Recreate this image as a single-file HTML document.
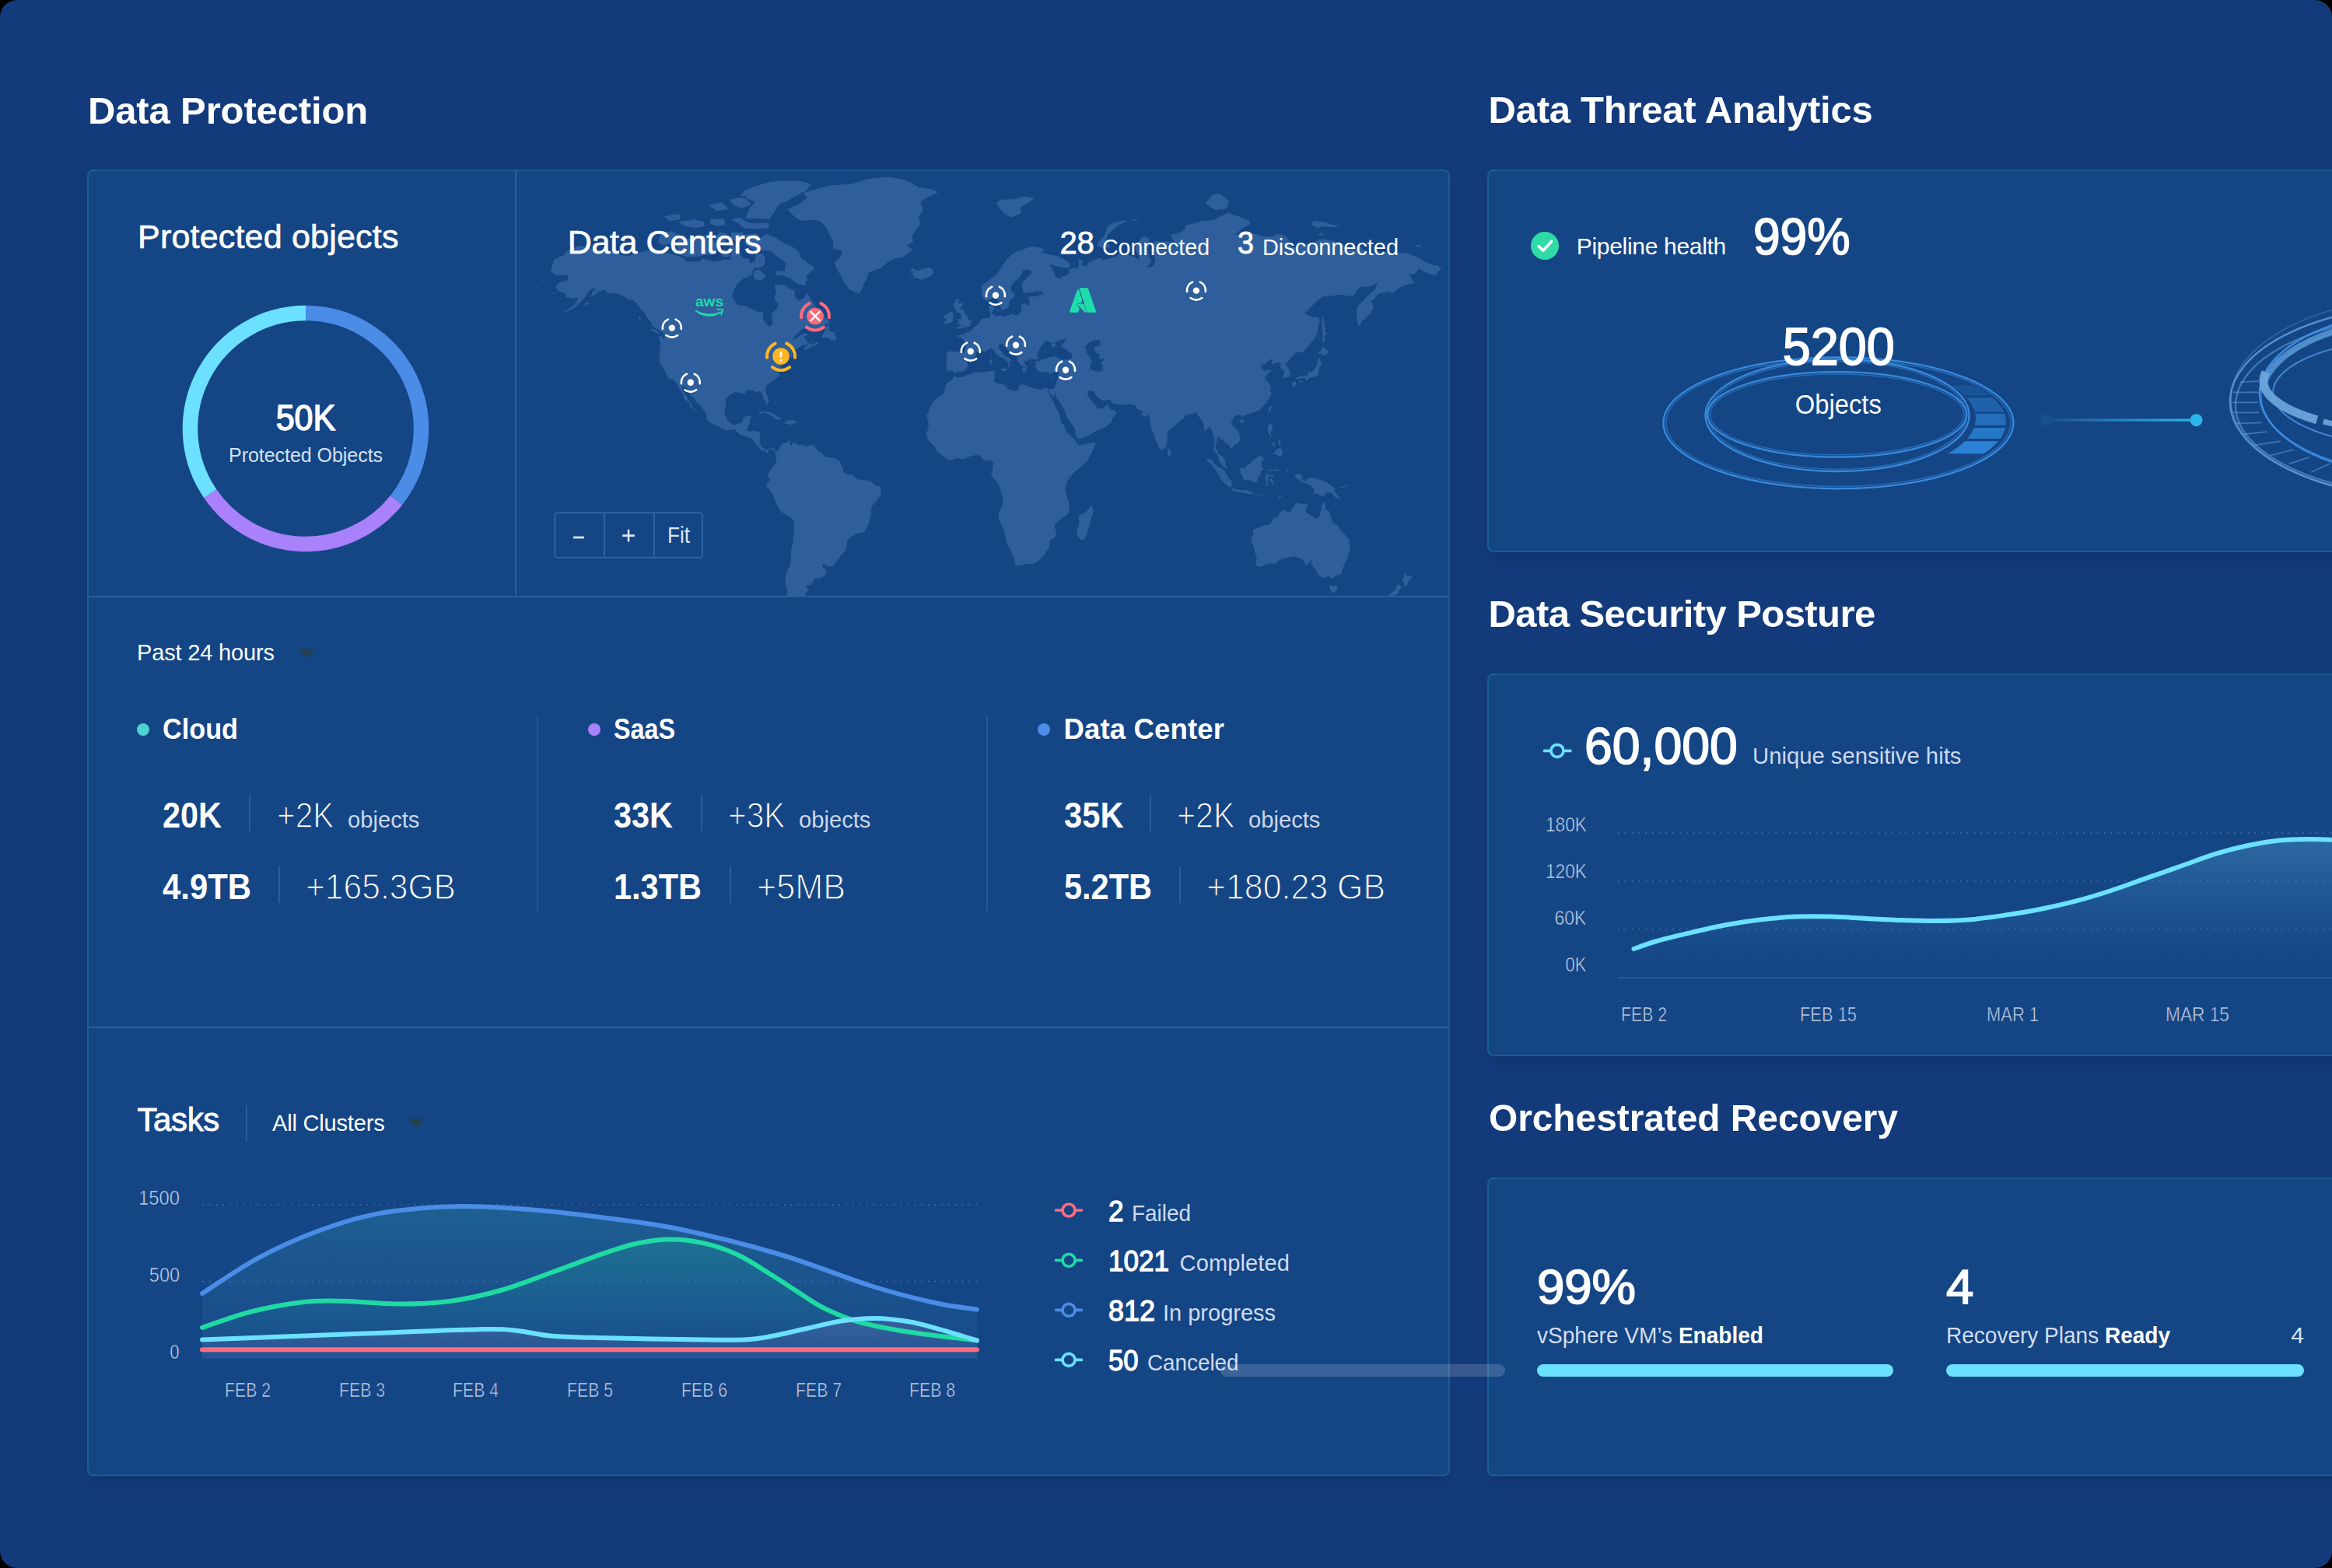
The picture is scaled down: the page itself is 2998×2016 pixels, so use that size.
<!DOCTYPE html>
<html lang="en">
<head>
<meta charset="utf-8">
<title>Data Protection Dashboard</title>
<style>
html,body{margin:0;padding:0;background:#000;}
body{width:2998px;height:2016px;overflow:hidden;font-family:"Liberation Sans",sans-serif;}
#app{position:absolute;left:0;top:0;width:2998px;height:2016px;background:#133a7a;border-radius:22px;overflow:hidden;}
.card{position:absolute;background:#144585;border:2px solid #185f93;border-radius:8px;box-sizing:border-box;box-shadow:0 16px 14px -10px rgba(8,24,64,.24);}
.t{position:absolute;white-space:nowrap;line-height:1;color:#fff;font-weight:400;}
.t b{font-weight:700;color:#fff;}
.vl{position:absolute;width:2px;background:#2b5d9c;}
.hl{position:absolute;height:2px;background:#2b5d9c;}
.dot{position:absolute;width:16px;height:16px;border-radius:50%;}
.bar{position:absolute;height:16px;border-radius:8px;background:#6be0ff;}
svg{position:absolute;left:0;top:0;}
</style>
</head>
<body>
<div id="app">
  <!-- cards -->
  <div class="card" style="left:112px;top:218px;width:1752px;height:1680px;"></div>
  <div class="card" style="left:1912px;top:218px;width:1120px;height:492px;"></div>
  <div class="card" style="left:1912px;top:866px;width:1120px;height:492px;"></div>
  <div class="card" style="left:1912px;top:1514px;width:1120px;height:384px;"></div>

  <svg width="2998" height="2016" viewBox="0 0 2998 2016">
    <defs>
      <clipPath id="mapclip"><rect x="664" y="220" width="1198" height="546" rx="6"/></clipPath>
      <linearGradient id="gblue" x1="0" y1="0" x2="0" y2="1">
        <stop offset="0" stop-color="#2b7fa0" stop-opacity=".45"/>
        <stop offset="1" stop-color="#2b6ea8" stop-opacity=".12"/>
      </linearGradient>
      <linearGradient id="ggreen" x1="0" y1="0" x2="0" y2="1">
        <stop offset="0" stop-color="#1f8f9a" stop-opacity=".45"/>
        <stop offset="1" stop-color="#1f7f9a" stop-opacity=".05"/>
      </linearGradient>
      <linearGradient id="gcyan" x1="0" y1="0" x2="0" y2="1">
        <stop offset="0" stop-color="#5a6fb0" stop-opacity=".45"/>
        <stop offset="1" stop-color="#5a6fb0" stop-opacity=".2"/>
      </linearGradient>
      <linearGradient id="gsec" x1="0" y1="0" x2="0" y2="1">
        <stop offset="0" stop-color="#3f86bd" stop-opacity=".55"/>
        <stop offset="1" stop-color="#2a66a6" stop-opacity="0"/>
      </linearGradient>
      <linearGradient id="gconn" gradientUnits="userSpaceOnUse" x1="2631" y1="0" x2="2823" y2="0">
        <stop offset="0" stop-color="#1a5596"/>
        <stop offset="1" stop-color="#2bb7ea"/>
      </linearGradient>
      <g id="dc">
        <circle r="4.2" fill="#fff"/>
        <g fill="none" stroke="#fff" stroke-width="2.7" stroke-linecap="round"><path d="M11.93 1.25A12 12 0 0 0 4.88 -10.96"/><path d="M-4.88 -10.96A12 12 0 0 0 -11.93 1.25"/><path d="M-7.39 9.46A12 12 0 0 0 7.39 9.46"/></g>
      </g>
    </defs>

    <!-- map -->
    <g clip-path="url(#mapclip)">
      <path d="M707.4 348.3L712.2 352.7L717.0 354.3L723.4 354.3L729.8 354.3L729.8 359.7L723.4 361.8L717.0 363.4L713.8 369.6L718.6 375.7L726.6 377.7L726.6 382.6L731.4 383.6L737.8 384.1L742.6 383.1L741.0 386.6L736.8 392.4L729.8 397.1L723.4 400.4L717.6 404.1L725.0 402.3L731.4 399.9L737.8 397.1L742.6 393.3L747.4 388.5L751.6 383.6L755.4 377.7L759.2 372.6L765.6 371.1L760.8 375.2L759.2 381.7L766.6 378.7L770.4 375.2L776.2 373.2L782.6 377.2L789.0 377.7L796.0 379.2L801.8 381.7L807.2 385.6L813.0 386.1L818.4 390.9L823.2 398.0L828.0 402.7L830.6 407.3L836.0 414.1L838.6 419.9L845.6 423.9L850.4 427.4L852.7 429.5L853.3 435.5L851.4 432.1L846.0 431.2L848.2 440.6L847.9 449.7L847.6 457.8L846.9 464.2L849.2 469.7L853.0 474.8L855.2 479.4L859.1 486.6L862.6 488.1L866.1 489.6L870.3 494.5L873.2 500.0L875.4 504.8L879.2 509.2L877.3 512.1L881.8 515.3L886.0 518.2L886.6 523.2L890.4 526.4L893.3 529.2L894.0 526.7L890.8 523.2L888.5 518.2L885.6 513.9L883.4 509.2L880.2 505.2L877.6 500.8L878.0 497.5L882.8 499.3L884.7 504.5L887.2 508.5L891.1 511.4L893.6 514.6L894.9 518.2L898.8 521.1L902.6 525.3L905.8 529.6L908.0 534.1L907.1 538.0L909.6 541.8L913.8 544.9L919.2 546.7L925.0 549.8L929.8 552.2L934.6 553.9L939.4 553.5L943.2 552.5L947.4 555.6L951.2 559.4L956.0 560.7L960.8 562.4L964.7 563.4L967.2 566.2L970.4 570.6L973.0 573.6L977.2 578.0L979.4 579.4L983.6 580.4L986.4 583.1L989.0 582.4L987.7 579.7L990.6 577.3L993.8 579.0L994.8 582.1L997.6 580.7L997.3 578.0L993.8 575.6L990.3 575.3L986.4 577.3L983.2 577.0L980.0 574.6L977.5 569.6L977.2 563.4L978.4 556.6L974.6 553.9L969.8 553.5L965.0 553.9L960.8 553.5L962.4 548.0L964.4 544.6L965.0 540.1L966.9 534.5L961.8 534.1L956.4 535.5L955.1 538.3L953.2 543.2L949.0 544.2L943.6 545.6L941.0 544.2L936.8 541.8L934.0 536.6L932.0 531.7L932.0 527.1L934.0 518.9L933.3 513.9L936.2 509.9L941.0 506.6L944.8 504.8L951.2 505.2L955.4 506.6L959.6 507.0L958.6 503.0L963.4 502.3L968.2 502.3L971.7 504.8L976.2 503.4L980.0 507.4L980.4 511.7L983.2 517.1L985.5 521.4L988.0 520.3L988.7 515.3L987.1 509.6L984.5 501.5L986.1 496.3L991.2 492.2L995.4 489.2L998.6 486.6L1003.1 484.0L1001.2 478.2L1002.4 476.3L1005.0 470.1L1007.9 467.3L1008.8 463.0L1016.2 460.2L1021.0 458.6L1018.4 456.6L1019.4 452.1L1024.2 448.9L1030.6 445.2L1037.6 443.5L1033.2 447.6L1034.4 451.7L1041.8 447.2L1049.2 444.3L1053.0 441.4L1049.8 438.1L1045.0 442.7L1038.6 440.6L1037.6 436.4L1034.4 433.0L1039.2 430.8L1038.6 427.8L1032.2 428.2L1024.2 433.8L1019.4 436.4L1025.8 429.1L1032.2 423.4L1041.8 423.0L1053.0 423.0L1061.0 418.2L1066.4 416.4L1066.4 411.9L1061.6 408.2L1059.4 402.7L1051.4 399.5L1047.2 390.9L1041.8 382.6L1038.6 375.7L1035.4 378.7L1032.2 383.6L1026.8 386.1L1022.6 381.2L1022.0 372.6L1016.2 371.1L1008.8 366.0L997.0 364.9L995.4 368.6L997.0 376.7L994.4 383.6L999.9 390.9L998.0 397.1L990.6 403.2L992.8 408.7L992.2 417.7L988.0 419.0L985.8 415.5L982.0 411.0L981.6 401.3L973.0 399.9L963.4 395.2L957.0 392.4L949.0 391.9L943.6 384.1L942.0 380.2L944.8 371.6L949.0 364.9L955.4 359.1L963.4 355.9L968.2 352.7L969.8 345.0L976.2 345.0L982.6 341.7L984.8 332.0L981.0 324.9L971.4 326.1L969.8 336.0L965.0 337.7L963.4 332.0L955.4 331.4L950.6 324.3L947.4 315.2L941.0 311.5L936.2 318.3L939.4 327.3L937.8 333.7L931.4 333.1L918.6 336.0L902.6 332.0L899.4 336.0L883.4 336.0L877.0 330.2L857.8 324.3L843.4 326.1L835.4 320.7L825.8 323.1L813.0 326.7L806.6 329.1L793.8 325.5L774.6 321.9L758.6 318.3L744.2 315.2L729.8 321.3L723.4 327.9L712.2 333.1L707.4 348.3ZM1011.4 269.2L1016.2 274.2L1021.0 279.2L1030.6 284.7L1041.8 283.4L1053.0 284.7L1061.0 291.5L1065.8 301.4L1070.6 310.9L1070.6 320.1L1081.8 323.1L1080.2 330.2L1072.8 336.0L1073.8 343.4L1078.6 351.6L1081.8 358.1L1086.6 366.0L1091.4 372.6L1099.4 376.2L1104.8 378.2L1108.0 373.7L1110.6 366.5L1114.4 359.7L1117.0 351.1L1125.0 347.8L1133.0 345.0L1141.0 338.3L1149.0 333.7L1160.2 331.4L1168.2 326.1L1174.6 320.7L1166.6 315.9L1174.6 310.9L1173.0 304.6L1177.8 296.2L1184.2 288.1L1181.0 279.2L1187.4 270.7L1184.2 259.6L1193.8 253.5L1206.6 248.1L1200.2 243.3L1181.0 240.1L1165.0 231.0L1142.6 226.8L1117.0 229.3L1094.6 236.0L1069.0 237.6L1046.6 243.3L1030.6 248.1L1037.0 254.3L1027.4 261.8L1011.4 269.2ZM997.3 578.0L995.7 583.1L997.0 586.1L997.6 590.5L997.0 595.5L993.5 598.5L992.8 601.8L989.6 603.9L988.7 606.5L986.4 610.5L986.1 614.6L989.6 615.2L987.7 618.6L984.8 622.3L985.5 627.3L989.3 630.0L992.2 635.0L994.8 641.5L998.0 647.9L1000.8 654.0L1004.4 658.8L1009.8 662.2L1016.5 666.0L1020.0 669.5L1020.4 678.5L1019.4 687.3L1019.1 696.2L1016.8 705.2L1016.2 712.5L1015.9 721.8L1014.6 727.4L1012.0 733.1L1009.8 738.9L1008.8 747.8L1009.2 754.6L1012.0 758.6L1010.4 765.9L1007.2 770.9L1003.4 775.5L1006.6 777.2L1003.4 782.7L1003.4 790.1L1005.6 796.7L1008.8 802.5L1013.0 806.2L1017.8 807.1L1018.4 803.0L1022.6 800.7L1025.5 799.8L1024.2 793.6L1027.4 790.1L1030.6 784.9L1034.4 780.6L1032.2 777.2L1028.7 773.8L1031.2 770.5L1035.7 768.0L1037.0 761.9L1041.2 759.0L1038.6 757.8L1037.0 752.6L1041.8 753.0L1045.6 749.8L1047.2 744.7L1054.6 743.9L1060.7 740.8L1063.2 735.4L1062.0 731.6L1058.4 728.9L1057.8 725.5L1060.0 726.3L1064.2 728.5L1069.6 728.9L1073.8 725.5L1077.6 719.9L1081.2 715.5L1085.0 710.7L1088.8 705.2L1089.2 699.8L1090.1 694.8L1094.6 690.8L1099.4 688.4L1104.2 685.9L1110.0 685.2L1112.8 683.1L1114.4 679.2L1117.0 674.3L1118.6 668.8L1120.2 662.9L1120.2 657.1L1121.5 651.0L1125.0 646.9L1128.2 642.8L1132.4 637.4L1133.6 631.3L1132.0 625.0L1126.0 623.3L1120.8 619.3L1115.4 616.9L1109.0 616.6L1102.6 615.6L1097.8 611.2L1092.0 609.5L1088.8 608.9L1084.4 606.2L1085.0 602.5L1082.4 598.8L1080.2 592.8L1076.0 589.8L1070.6 587.8L1064.2 587.4L1060.0 585.8L1056.2 581.0L1051.4 578.3L1048.2 574.3L1046.6 571.3L1041.8 571.6L1037.0 573.3L1032.2 571.6L1026.4 571.3L1022.6 568.9L1021.0 566.5L1018.4 569.2L1016.8 572.6L1015.2 570.2L1017.2 567.2L1015.2 565.5L1011.4 568.2L1007.2 569.6L1003.4 571.6L1001.8 576.0L999.2 580.4L997.3 578.0ZM1025.5 802.1L1019.7 803.0L1019.4 808.0L1014.6 809.8L1017.8 812.6L1024.2 814.9L1030.0 816.8L1036.4 811.2L1032.2 808.4L1027.4 804.3L1025.5 802.1ZM1226.1 482.1L1225.2 484.3L1223.2 488.5L1220.0 490.4L1216.2 493.4L1214.0 497.8L1214.0 501.5L1213.3 504.5L1210.4 507.7L1206.6 510.3L1202.8 512.4L1199.2 516.4L1197.6 520.0L1194.4 525.3L1193.2 529.6L1190.6 534.1L1191.2 536.6L1192.8 541.1L1193.2 546.3L1192.5 551.5L1191.2 554.9L1189.3 557.6L1191.6 561.7L1191.6 565.8L1195.4 568.9L1198.0 571.6L1201.5 575.0L1202.8 578.3L1204.7 581.7L1208.2 584.1L1211.4 586.4L1216.2 590.1L1220.7 592.5L1224.2 591.5L1229.0 589.8L1234.8 590.1L1238.6 591.1L1243.4 589.1L1248.8 586.8L1254.0 585.8L1258.8 586.1L1261.6 589.1L1264.2 592.8L1268.0 592.5L1272.2 591.8L1275.4 593.8L1276.4 596.2L1276.0 600.5L1275.1 606.2L1273.2 609.5L1274.4 612.2L1277.6 616.6L1281.2 620.6L1284.0 623.9L1284.4 627.3L1286.0 631.3L1287.2 637.4L1289.2 642.5L1288.8 647.6L1286.0 652.7L1283.4 659.5L1282.8 665.7L1285.0 671.6L1288.5 678.5L1291.4 685.5L1292.7 694.4L1294.6 700.9L1298.1 706.3L1300.7 712.5L1303.6 718.1L1303.6 722.9L1305.2 727.0L1309.0 728.5L1314.8 727.0L1320.2 725.9L1327.2 725.5L1332.4 723.7L1337.2 719.9L1342.0 715.1L1345.2 709.6L1349.0 705.2L1350.0 699.8L1350.3 694.8L1355.4 691.9L1358.6 688.4L1358.3 682.7L1356.0 677.8L1357.0 674.3L1362.8 668.8L1367.6 665.3L1373.0 661.9L1375.2 656.8L1374.9 649.3L1374.3 642.5L1371.4 638.1L1371.1 632.3L1369.5 627.3L1371.7 622.3L1373.6 617.2L1376.2 613.9L1379.4 609.9L1384.2 605.5L1390.0 600.5L1395.4 596.2L1399.6 590.5L1403.4 583.7L1406.6 577.0L1408.5 571.9L1408.8 567.2L1404.4 568.9L1398.6 569.6L1392.2 570.9L1387.4 571.9L1383.2 568.5L1383.6 565.8L1381.3 563.8L1377.2 560.0L1373.0 556.6L1370.4 552.5L1368.2 546.3L1364.4 542.8L1364.0 537.6L1362.8 532.4L1358.9 526.0L1355.7 518.9L1353.2 512.8L1350.0 508.1L1349.0 503.7L1348.4 498.9L1342.6 498.2L1337.8 500.4L1331.4 498.9L1325.0 497.5L1319.2 495.2L1314.8 493.0L1309.0 495.6L1309.0 500.0L1305.8 502.6L1301.0 500.8L1295.6 499.3L1294.0 495.2L1288.2 493.0L1283.4 493.0L1279.6 490.7L1277.6 488.9L1280.2 487.0L1278.9 482.1L1280.2 477.5L1276.4 476.3L1269.0 477.1L1262.6 478.2L1254.6 477.8L1246.6 480.5L1241.8 482.1L1237.0 484.3L1230.6 484.3L1226.1 482.1ZM1402.8 647.6L1401.2 651.0L1398.6 654.4L1396.0 657.8L1392.2 660.2L1387.4 661.9L1385.8 666.4L1387.1 671.6L1385.8 676.8L1383.6 682.0L1384.2 687.3L1386.4 692.6L1390.6 694.8L1395.4 693.0L1397.0 689.1L1399.2 682.0L1401.2 675.0L1403.1 668.8L1404.0 664.0L1406.3 659.1L1405.0 652.7L1402.8 647.6ZM1227.1 481.3L1230.6 478.6L1233.8 478.6L1238.6 478.2L1242.4 475.1L1243.1 473.6L1245.6 470.5L1244.0 468.1L1245.0 466.2L1247.9 462.2L1252.0 460.2L1255.2 457.8L1254.9 453.8L1257.8 451.7L1261.0 452.1L1265.8 453.4L1270.0 450.5L1273.8 448.0L1277.6 450.1L1278.6 453.8L1280.8 456.2L1284.4 459.0L1289.2 461.0L1292.4 463.4L1295.2 465.8L1296.2 470.5L1295.2 474.0L1297.8 472.4L1300.0 469.7L1298.1 466.9L1299.4 463.8L1303.6 466.6L1303.9 464.6L1299.4 461.8L1296.8 458.6L1293.6 458.2L1289.8 454.6L1287.2 450.5L1284.4 447.6L1284.7 443.9L1288.8 442.7L1288.8 446.0L1291.7 444.7L1293.0 448.5L1296.2 451.7L1301.0 454.2L1305.2 456.6L1307.4 459.4L1307.4 464.6L1310.0 467.7L1312.2 470.5L1318.0 472.8L1312.8 472.4L1313.2 474.4L1314.4 477.8L1316.4 479.0L1318.6 479.4L1319.2 476.3L1320.2 474.4L1321.8 473.6L1319.6 469.7L1317.6 467.7L1318.0 463.8L1319.6 465.0L1321.8 464.2L1324.4 462.2L1328.2 462.6L1330.8 463.4L1334.6 461.8L1338.1 461.0L1334.9 459.0L1333.6 456.2L1334.6 453.8L1336.5 450.5L1338.4 446.4L1340.4 443.5L1343.2 439.7L1345.8 438.5L1348.4 440.6L1352.5 441.4L1349.3 443.9L1351.9 445.2L1352.8 448.0L1355.4 446.8L1358.6 445.6L1361.8 444.3L1357.0 443.1L1357.0 440.6L1361.8 438.5L1366.6 436.8L1370.4 436.8L1367.2 440.2L1363.4 444.7L1365.0 446.8L1369.8 449.7L1374.6 452.9L1378.1 455.8L1377.8 459.8L1372.4 461.8L1366.6 461.8L1361.8 460.6L1357.6 457.8L1353.8 457.8L1349.0 458.6L1344.2 461.4L1338.8 461.0L1338.4 463.0L1334.0 464.2L1329.8 464.6L1328.8 466.9L1331.1 468.5L1329.8 471.3L1331.4 473.6L1332.7 476.7L1334.6 478.2L1337.8 479.0L1342.0 480.1L1344.2 478.2L1349.0 480.9L1353.2 480.5L1357.0 478.6L1360.5 479.0L1359.9 482.1L1359.6 485.9L1358.0 490.4L1356.7 494.1L1354.8 498.6L1352.2 499.7L1348.7 499.3L1349.3 504.1L1350.6 507.4L1352.8 510.3L1354.8 511.0L1356.7 505.9L1356.4 509.2L1358.6 512.8L1362.8 518.9L1366.0 524.6L1369.2 529.6L1370.4 534.8L1373.0 539.4L1376.8 544.6L1380.7 550.4L1382.0 554.9L1382.6 560.7L1384.5 564.5L1390.0 563.8L1397.0 561.7L1401.8 559.4L1406.6 556.6L1412.0 553.5L1416.2 551.5L1421.0 549.8L1425.8 546.3L1429.6 542.8L1430.6 538.3L1433.8 534.8L1436.4 530.6L1432.5 526.7L1427.4 525.3L1425.5 521.8L1424.8 517.5L1421.6 520.7L1417.8 524.6L1413.0 525.0L1409.8 523.6L1410.1 519.6L1408.5 517.8L1407.6 521.1L1405.6 517.1L1403.4 513.9L1400.5 510.3L1398.6 506.3L1398.6 503.7L1401.8 502.3L1406.0 504.5L1408.8 509.2L1412.4 512.4L1415.6 515.0L1420.4 516.0L1424.8 514.3L1427.4 515.3L1430.0 519.3L1435.4 520.3L1442.1 521.1L1448.2 520.7L1454.6 520.7L1459.4 522.1L1461.0 525.3L1465.2 527.8L1469.6 529.6L1465.8 531.7L1469.0 535.5L1472.2 536.6L1477.0 534.1L1477.6 537.6L1478.0 543.5L1479.2 549.8L1481.2 554.9L1483.4 560.7L1485.6 566.8L1488.2 571.9L1490.1 577.0L1493.0 580.0L1495.2 578.3L1497.8 576.3L1500.4 572.6L1500.7 567.5L1501.6 562.1L1501.0 556.6L1503.6 553.5L1508.4 550.4L1513.8 544.6L1518.6 540.4L1522.8 538.3L1523.4 534.8L1526.0 533.8L1529.8 533.1L1534.0 532.4L1537.2 530.3L1539.4 533.1L1542.0 537.6L1545.2 541.8L1547.4 547.0L1546.8 553.2L1550.0 553.9L1552.2 551.5L1554.8 549.8L1557.6 553.2L1558.6 558.3L1560.2 563.4L1560.8 568.5L1560.2 574.3L1559.6 579.7L1561.8 581.4L1564.4 585.1L1566.0 588.4L1567.2 593.1L1569.2 597.2L1571.4 599.5L1575.9 602.5L1578.4 602.5L1576.2 597.8L1575.9 593.1L1574.0 588.8L1570.4 585.1L1566.6 583.7L1566.0 579.7L1563.4 576.3L1562.8 572.6L1565.0 568.5L1565.0 563.4L1566.6 561.7L1568.2 564.5L1573.0 566.2L1574.6 570.2L1578.8 571.9L1580.4 574.3L1581.0 578.3L1585.2 576.0L1586.4 573.6L1589.0 571.9L1593.2 569.2L1594.8 565.1L1594.4 560.0L1592.2 553.9L1589.0 550.8L1585.5 547.0L1583.2 542.8L1585.8 538.7L1588.0 535.2L1592.2 533.4L1595.7 534.8L1597.6 538.0L1598.6 535.2L1601.8 534.1L1606.6 532.4L1610.4 531.3L1614.6 529.9L1620.0 527.1L1624.2 522.8L1627.7 518.9L1630.6 514.6L1634.1 509.9L1635.4 504.5L1632.8 501.9L1634.8 499.3L1633.8 495.2L1630.6 490.7L1626.4 485.9L1628.4 483.2L1632.2 479.4L1636.7 476.3L1630.6 474.8L1625.8 476.3L1622.6 472.8L1622.0 469.7L1626.8 468.5L1631.6 463.8L1634.8 462.2L1634.8 465.8L1633.8 470.5L1638.0 467.7L1642.8 466.2L1646.0 467.7L1645.0 471.6L1646.6 474.4L1650.4 477.5L1649.5 482.1L1649.5 487.4L1653.3 486.2L1657.8 484.7L1659.4 482.1L1658.8 476.7L1655.6 471.6L1653.0 467.7L1656.2 465.0L1660.4 460.6L1663.6 456.2L1667.4 452.9L1670.6 454.6L1677.0 451.7L1681.8 446.4L1686.6 440.2L1691.4 433.8L1694.3 428.7L1694.9 420.8L1697.2 415.5L1696.8 410.1L1693.0 406.9L1688.2 407.3L1683.4 405.5L1678.0 402.7L1683.4 398.0L1689.8 390.9L1696.2 385.1L1702.6 381.2L1712.2 381.2L1721.8 379.7L1728.2 380.2L1734.6 381.7L1741.0 379.7L1745.8 372.6L1750.6 368.6L1757.0 370.1L1763.4 368.6L1769.8 364.9L1768.2 370.1L1763.4 375.2L1757.0 380.2L1752.2 386.6L1746.8 390.9L1743.2 397.1L1743.2 404.1L1744.2 413.2L1746.4 419.9L1749.0 417.7L1752.2 411.9L1757.0 410.1L1758.0 406.4L1763.4 402.7L1766.6 394.7L1763.4 387.5L1767.6 385.1L1771.4 378.7L1776.2 377.7L1782.6 375.7L1790.6 377.7L1797.0 372.6L1803.4 368.6L1811.4 366.0L1819.4 364.9L1816.2 359.7L1812.4 352.7L1814.6 353.8L1821.0 351.6L1824.2 346.1L1829.0 348.9L1837.0 352.7L1845.0 354.9L1849.8 348.9L1854.0 345.6L1848.2 341.1L1840.2 339.4L1830.6 334.9L1821.0 329.6L1811.4 325.5L1801.8 324.3L1792.2 323.1L1789.0 327.9L1782.6 323.1L1773.0 326.1L1763.4 325.5L1757.0 324.3L1750.6 317.7L1741.0 316.5L1731.4 317.1L1723.4 310.9L1712.2 309.0L1699.4 306.5L1692.4 309.0L1686.6 314.0L1678.6 313.4L1670.6 313.4L1664.2 317.7L1659.4 315.2L1656.2 305.9L1649.8 301.4L1641.8 300.1L1635.4 303.3L1625.8 303.9L1616.2 300.7L1606.6 299.4L1597.0 298.8L1589.0 301.4L1597.0 294.8L1608.2 288.1L1606.6 283.4L1597.0 279.2L1585.8 275.7L1578.8 272.8L1568.2 277.8L1558.6 282.7L1545.8 283.4L1533.0 286.8L1523.4 289.5L1523.4 294.8L1513.8 299.4L1503.6 301.4L1509.0 310.9L1510.6 318.3L1507.4 312.1L1501.0 309.0L1494.6 310.9L1488.2 309.7L1483.4 309.7L1481.2 320.1L1482.8 327.3L1485.0 334.9L1481.8 341.7L1475.4 343.4L1481.2 336.0L1477.6 330.2L1476.4 323.1L1477.6 315.9L1478.0 306.5L1473.8 303.3L1467.4 304.6L1464.2 309.0L1459.4 315.9L1459.4 323.1L1462.6 326.1L1464.2 333.1L1456.2 329.1L1451.4 327.3L1445.0 324.9L1438.6 324.3L1435.4 329.1L1427.4 331.4L1417.8 333.7L1414.6 330.8L1406.6 333.7L1399.6 336.6L1397.0 341.1L1390.6 341.1L1393.2 336.6L1390.6 333.1L1385.2 332.6L1386.8 339.4L1385.2 345.0L1379.4 343.9L1373.0 346.1L1374.0 350.0L1371.4 353.8L1366.6 354.3L1362.8 357.6L1357.0 355.4L1356.0 351.6L1353.8 346.1L1350.0 340.6L1355.4 342.2L1363.4 343.9L1372.4 345.6L1376.8 342.8L1375.6 337.7L1368.2 333.1L1360.2 328.5L1352.2 327.3L1345.8 325.5L1339.4 324.3L1344.2 321.3L1341.0 319.5L1334.6 317.1L1327.6 316.5L1321.8 317.1L1315.4 320.1L1307.4 322.5L1301.0 326.1L1294.6 332.0L1291.4 337.2L1286.6 343.4L1283.4 348.9L1278.6 354.3L1272.2 359.1L1265.8 363.4L1261.0 367.5L1261.0 373.7L1262.0 380.2L1264.2 385.1L1269.0 387.5L1273.8 385.1L1277.6 382.6L1279.2 380.2L1281.2 384.6L1283.4 390.0L1286.0 395.7L1286.6 399.9L1291.1 398.5L1295.9 396.6L1297.8 393.3L1298.4 387.5L1302.0 383.6L1305.2 380.2L1304.5 377.2L1300.0 373.7L1300.7 367.5L1304.2 362.8L1309.0 359.1L1313.2 354.3L1315.4 348.3L1321.2 347.2L1326.0 348.9L1325.0 351.6L1321.2 355.4L1316.4 360.2L1313.2 364.9L1313.5 370.1L1314.8 375.2L1318.6 378.2L1325.0 376.7L1333.0 375.2L1337.8 375.2L1341.0 378.2L1336.2 378.7L1333.0 380.7L1326.6 380.2L1320.2 381.7L1320.2 383.6L1323.1 386.1L1322.8 390.9L1320.2 392.4L1317.3 389.0L1314.1 390.0L1312.2 393.3L1312.5 399.0L1310.6 402.3L1308.4 404.1L1305.2 404.6L1302.6 402.7L1297.2 404.6L1290.8 406.9L1289.2 406.0L1285.0 404.6L1282.8 406.0L1279.6 405.5L1275.7 402.3L1277.0 399.9L1279.6 396.6L1278.3 394.3L1278.6 389.0L1275.4 391.4L1271.2 392.4L1270.9 397.1L1272.5 400.9L1273.2 405.5L1271.6 407.8L1267.4 408.7L1261.6 409.2L1259.7 411.9L1257.8 415.9L1254.6 418.6L1250.4 420.4L1249.8 423.4L1245.6 426.1L1243.4 427.4L1239.2 425.6L1239.9 430.4L1235.4 429.5L1230.0 430.8L1230.3 433.0L1233.8 434.2L1238.0 436.8L1241.2 442.2L1240.8 447.6L1239.2 452.1L1233.8 451.7L1226.4 451.3L1219.4 450.9L1215.2 453.8L1216.8 457.0L1216.8 461.8L1216.2 466.6L1214.6 470.5L1216.8 472.0L1216.5 477.5L1221.3 476.7L1224.8 478.2L1227.1 481.3ZM1226.8 423.9L1230.6 423.0L1233.8 423.0L1238.6 421.7L1243.4 420.8L1249.5 419.0L1247.2 417.7L1250.4 413.2L1248.8 411.4L1245.6 411.4L1245.3 408.7L1243.4 404.6L1240.8 402.7L1239.6 398.5L1236.7 397.1L1234.8 396.6L1237.0 394.3L1238.9 389.5L1233.8 389.0L1231.9 389.5L1235.1 384.6L1229.0 384.6L1226.4 389.5L1225.2 393.8L1227.4 397.1L1227.1 399.9L1229.6 399.0L1229.0 402.7L1233.8 402.3L1234.8 406.0L1235.7 407.8L1235.1 409.6L1230.6 409.6L1231.6 412.3L1231.9 414.1L1228.4 416.4L1232.2 417.3L1235.4 418.2L1232.8 419.0L1230.6 419.9L1226.8 423.9ZM1224.8 414.6L1225.8 411.0L1225.2 409.2L1226.4 404.6L1224.8 400.9L1221.0 400.4L1217.8 403.6L1213.0 405.5L1213.0 409.2L1216.2 410.1L1213.6 413.7L1212.4 416.4L1214.6 417.7L1219.4 416.4L1224.8 414.6ZM1168.2 348.9L1174.6 350.0L1168.2 352.2L1174.6 354.9L1172.4 357.6L1177.8 358.1L1184.2 360.2L1190.6 358.1L1197.6 354.9L1201.2 350.5L1198.3 345.0L1193.8 343.4L1187.4 345.0L1179.4 347.8L1173.0 343.9L1168.2 348.9ZM1280.2 259.6L1283.4 267.0L1289.8 274.2L1299.4 280.6L1313.8 274.2L1312.2 267.0L1321.8 261.8L1331.4 254.3L1315.4 252.0L1302.6 255.8L1289.8 255.8L1280.2 259.6ZM1409.8 315.2L1414.6 318.9L1429.0 318.9L1422.6 310.9L1424.2 302.7L1430.6 296.2L1440.2 288.8L1456.2 282.0L1465.8 277.8L1459.4 284.7L1443.4 282.7L1430.6 286.1L1422.6 291.5L1421.0 298.1L1417.8 304.6L1411.4 310.9L1409.8 315.2ZM1549.0 261.8L1561.8 270.7L1577.8 268.5L1581.0 258.8L1568.2 248.1L1558.6 249.6L1549.0 261.8ZM1683.4 288.1L1693.0 293.5L1702.6 291.5L1715.4 292.8L1725.0 289.5L1712.2 288.1L1702.6 284.7L1689.8 283.4L1683.4 288.1ZM1696.2 303.3L1704.2 302.7L1699.4 298.8L1693.0 301.4ZM1821.0 318.3L1829.0 317.1L1825.8 314.0L1816.2 315.9ZM1700.0 405.0L1698.4 415.5L1699.4 424.3L1699.7 433.0L1699.4 441.4L1704.2 439.3L1702.6 433.0L1707.7 428.7L1704.5 426.5L1703.6 417.7L1702.6 411.0L1700.0 405.0ZM1693.6 459.8L1694.6 455.8L1697.8 455.8L1703.6 457.8L1710.6 452.5L1706.8 449.7L1702.6 447.2L1699.4 443.5L1698.4 449.7L1694.6 452.9L1693.6 459.8ZM1697.2 460.2L1694.0 461.0L1693.0 465.8L1691.4 471.6L1688.2 475.9L1684.4 478.2L1682.8 476.3L1680.2 482.4L1675.4 482.8L1669.0 483.6L1664.8 486.6L1664.2 488.9L1670.6 487.7L1677.0 486.6L1679.6 490.7L1682.8 487.7L1683.4 486.6L1689.8 485.1L1693.0 484.3L1695.9 481.3L1696.2 473.6L1699.4 467.7L1697.2 460.2ZM1663.9 489.2L1660.0 492.6L1661.6 496.3L1663.2 499.7L1665.8 498.2L1666.8 491.5L1663.9 489.2ZM1669.0 489.6L1670.6 493.4L1674.8 490.7L1675.4 488.1L1669.0 489.6ZM1633.8 521.1L1630.9 523.6L1629.6 528.9L1632.2 532.0L1635.4 523.6L1633.8 521.1ZM1593.8 539.4L1593.2 544.2L1598.6 544.6L1600.2 539.4L1593.8 539.4ZM1501.0 574.6L1500.4 582.1L1501.6 587.1L1504.2 586.4L1506.8 583.7L1505.2 578.7L1501.0 574.6ZM1630.6 544.6L1629.0 553.2L1630.9 559.0L1633.8 561.1L1638.6 561.7L1642.1 564.8L1641.8 563.4L1635.4 560.0L1633.8 556.6L1636.4 551.5L1636.0 544.9L1630.6 544.6ZM1635.4 583.7L1641.8 585.4L1646.3 588.4L1648.8 586.1L1649.8 580.4L1646.3 574.3L1640.2 578.3L1635.4 583.7ZM1642.8 569.2L1644.4 572.9L1646.6 572.6L1646.9 566.2L1642.8 565.1ZM1635.4 571.9L1637.0 575.3L1639.6 576.0L1639.2 568.5L1635.4 567.5ZM1620.0 579.0L1627.4 571.6L1628.0 569.2L1625.2 572.6L1619.4 578.0ZM1631.6 565.5L1633.2 565.8L1633.5 562.4L1630.3 562.1ZM1593.8 602.2L1593.8 608.2L1597.0 612.2L1597.6 616.6L1601.8 618.2L1606.6 617.9L1611.7 620.6L1617.2 619.9L1617.8 613.9L1621.0 609.9L1622.0 605.5L1625.8 603.9L1622.6 600.5L1622.0 595.5L1623.6 592.1L1625.8 589.4L1621.6 586.1L1618.8 583.7L1614.6 588.8L1609.8 592.1L1606.6 596.5L1601.5 598.2L1600.2 601.8L1595.7 600.5L1593.8 602.2ZM1550.0 588.4L1552.2 593.1L1557.0 597.8L1561.8 603.9L1566.0 610.2L1568.2 615.6L1572.4 620.6L1579.4 626.6L1583.9 626.6L1584.2 617.2L1580.0 614.9L1577.8 610.5L1574.6 604.9L1569.8 601.2L1566.6 599.8L1560.8 594.5L1557.0 589.8L1550.0 588.4ZM1582.0 630.0L1585.8 632.0L1593.8 633.4L1603.4 635.0L1611.4 636.4L1611.4 633.4L1605.6 630.7L1600.2 628.6L1598.6 630.0L1592.2 629.3L1584.5 627.0L1582.0 630.0ZM1613.0 636.7L1619.4 637.4L1629.0 637.1L1638.0 636.7L1638.6 635.0L1632.2 635.7L1625.8 635.4L1619.4 635.0L1613.0 634.7ZM1640.2 641.8L1645.0 640.8L1649.8 637.4L1651.4 635.4L1645.0 637.4L1640.2 641.8ZM1629.0 607.2L1632.2 605.9L1638.6 606.2L1643.4 605.9L1645.0 601.5L1638.6 603.9L1632.2 602.8L1628.4 604.5ZM1627.4 610.5L1625.2 616.2L1627.4 618.9L1627.4 625.6L1630.3 625.6L1630.6 616.6L1631.6 610.5L1629.0 607.2L1628.4 604.5ZM1630.9 612.6L1633.2 613.6L1638.0 612.6L1639.6 610.2L1630.9 609.9ZM1631.6 617.9L1633.8 620.6L1636.4 623.3L1639.2 623.3L1637.0 618.2L1633.8 613.9L1630.9 615.9ZM1653.6 606.2L1656.2 608.9L1656.2 602.2L1653.0 600.5ZM1654.6 618.6L1659.4 618.9L1663.6 617.9L1654.6 617.2ZM1664.2 609.9L1664.2 612.2L1667.4 616.6L1672.2 617.2L1670.0 620.6L1673.8 620.6L1680.2 622.6L1686.6 625.6L1689.2 630.7L1686.6 635.4L1691.4 634.7L1697.8 638.1L1702.6 638.4L1704.2 635.7L1707.4 633.0L1712.2 634.7L1717.0 640.8L1723.4 642.1L1727.6 641.8L1723.4 640.1L1718.6 634.7L1715.4 630.0L1718.0 629.7L1717.0 627.3L1711.6 623.9L1704.2 618.9L1696.2 615.9L1689.8 613.9L1683.4 613.2L1677.0 618.2L1674.8 615.6L1673.8 609.9L1669.0 608.5L1664.2 609.9ZM1720.2 627.0L1726.6 628.0L1732.4 623.9L1731.4 621.3L1726.6 625.6L1720.2 625.6ZM1608.8 682.0L1610.1 681.3L1610.4 687.3L1608.2 690.8L1608.2 696.2L1610.4 701.6L1613.0 710.7L1615.2 718.1L1613.0 726.7L1617.8 729.3L1622.6 729.3L1629.0 725.5L1634.8 725.2L1640.2 725.5L1643.4 721.8L1648.2 719.2L1657.8 716.9L1665.8 716.2L1672.2 718.8L1675.4 721.8L1678.6 728.5L1681.8 725.5L1686.0 720.3L1685.0 725.5L1683.4 730.1L1686.6 726.7L1688.2 730.1L1691.4 733.1L1693.0 738.1L1696.2 741.6L1701.0 742.8L1704.2 743.9L1708.4 740.8L1710.6 742.8L1713.2 745.1L1717.0 740.8L1721.8 740.0L1725.0 738.1L1726.0 733.1L1727.6 729.3L1729.2 724.8L1733.0 718.1L1734.6 710.7L1736.5 704.1L1735.2 698.0L1734.6 692.6L1730.8 689.1L1727.6 684.8L1723.4 680.3L1720.2 675.0L1713.8 671.6L1712.2 666.4L1710.6 661.2L1710.0 657.1L1705.2 655.4L1704.2 649.3L1701.0 643.1L1698.8 649.3L1697.8 656.1L1696.2 662.9L1693.0 666.7L1688.2 664.0L1683.4 660.5L1678.6 657.8L1680.2 652.7L1682.8 648.2L1677.0 647.6L1672.2 646.9L1669.0 645.2L1664.2 648.6L1661.0 652.7L1659.4 657.8L1654.6 657.1L1650.8 654.4L1645.0 659.5L1640.2 665.7L1636.0 664.6L1636.0 668.8L1632.2 673.6L1625.8 675.0L1618.8 677.1L1613.0 680.3L1608.8 682.0ZM1708.0 751.4L1709.0 756.6L1710.6 760.2L1713.8 763.1L1717.0 761.9L1719.6 757.4L1719.6 752.2L1713.8 753.0L1708.0 751.4ZM1797.6 727.0L1798.6 729.3L1802.4 734.6L1804.4 738.9L1803.7 742.8L1801.2 746.3L1805.0 749.4L1804.0 753.8L1806.0 755.0L1809.8 752.6L1811.4 746.7L1814.0 745.5L1816.2 739.6L1814.6 739.3L1808.2 739.3L1807.6 736.9L1804.4 736.2L1801.8 730.4L1797.6 727.0ZM1797.6 750.6L1795.4 752.6L1793.2 757.8L1789.0 761.5L1782.6 765.9L1777.8 772.2L1781.6 773.8L1785.8 775.5L1791.2 772.6L1793.2 765.9L1798.0 763.5L1798.6 760.6L1801.8 755.8L1802.4 753.4L1797.6 750.6ZM1033.8 367.5L1038.0 366.0L1035.4 363.4L1038.6 360.7L1037.0 354.3L1041.8 351.6L1048.2 344.5L1043.4 340.6L1030.6 332.0L1027.4 323.1L1017.8 315.9L1008.2 312.1L998.6 305.9L985.8 300.1L976.2 305.9L973.0 299.4L957.0 301.4L957.0 314.0L963.4 319.5L973.0 321.9L982.6 323.1L990.6 323.1L998.6 330.2L1009.8 337.7L1008.2 348.9L998.6 347.2L995.4 354.3L1005.0 354.3L1014.6 358.1L1024.2 364.9L1033.8 367.5ZM870.6 320.1L872.2 327.3L883.4 331.4L899.4 330.2L909.0 327.9L915.4 329.1L921.8 323.1L921.8 307.8L910.6 307.8L909.0 301.4L901.0 302.7L893.0 304.6L883.4 306.5L873.8 305.9L867.4 314.0L870.6 320.1ZM845.0 310.9L851.4 315.9L861.0 314.0L864.2 310.9L873.8 301.4L864.2 296.8L849.8 298.1L845.0 310.9ZM957.0 281.3L973.0 281.3L989.0 282.7L995.4 274.2L1001.8 263.3L1011.4 259.6L1021.0 253.5L1037.0 245.7L1043.4 236.0L1027.4 231.8L1005.0 231.8L989.0 233.5L966.6 240.1L957.0 244.1L950.6 252.0L969.8 259.6L963.4 267.0L957.0 281.3ZM937.8 281.3L949.0 288.1L957.0 294.2L973.0 294.8L989.0 293.5L989.0 286.1L963.4 286.1L950.6 279.2L937.8 281.3ZM937.8 255.8L941.0 263.3L953.8 268.5L966.6 263.3L957.0 252.0L937.8 255.8ZM870.6 284.7L880.2 291.5L893.0 293.5L905.8 291.5L905.8 284.7L893.0 281.3L870.6 284.7ZM912.2 288.1L921.8 291.5L933.0 289.5L931.4 280.6L912.2 281.3ZM918.6 310.9L929.8 314.0L936.2 307.8L934.6 299.4L925.0 298.1L918.6 304.6ZM939.4 307.8L947.4 310.9L957.0 305.9L955.4 298.1L939.4 298.1ZM929.8 330.8L939.4 330.8L937.8 324.9L926.6 326.1ZM966.6 348.9L969.8 359.7L979.4 361.3L985.8 354.3L976.2 346.1L966.6 348.9ZM861.0 284.7L875.4 282.7L873.8 274.2L851.4 277.8ZM921.8 272.1L937.8 268.5L928.2 259.6L909.0 263.3ZM1055.2 434.7L1065.8 434.7L1067.4 437.6L1073.8 438.9L1076.4 435.1L1075.4 433.0L1073.8 427.4L1070.6 426.5L1065.8 424.3L1067.4 417.3L1063.2 418.2L1061.0 421.7L1058.1 428.7L1055.2 434.7ZM834.4 421.3L836.0 424.3L845.0 429.5L850.1 431.2L845.0 424.3L834.4 421.3ZM821.6 411.0L825.2 414.1L823.2 406.4L819.4 406.4ZM752.2 393.3L757.0 391.4L757.0 387.5L750.6 390.0ZM1040.2 426.5L1047.2 428.2L1046.6 426.9L1038.6 424.8ZM1040.2 440.2L1045.0 441.4L1046.6 439.3L1039.2 438.1ZM973.0 533.1L976.2 533.1L982.6 531.0L987.4 533.1L993.8 536.9L997.0 540.1L1003.4 539.7L1007.6 538.7L1003.4 536.9L998.6 534.1L993.8 531.3L987.4 528.5L981.0 528.5L976.2 529.6L973.0 533.1ZM1006.9 544.9L1013.0 545.6L1015.6 547.3L1019.4 545.6L1026.1 544.2L1021.0 540.1L1016.2 539.7L1011.4 539.7L1006.9 544.9ZM994.4 544.9L998.0 547.0L1000.8 545.6L994.4 544.9ZM1030.0 544.6L1030.0 546.3L1033.8 546.5L1035.1 544.9L1030.0 544.6ZM994.8 521.1L996.0 521.1L998.0 516.4L994.8 515.7ZM1046.9 573.3L1049.8 573.3L1050.1 570.9L1046.9 570.9ZM1285.0 473.6L1285.0 475.1L1288.2 476.7L1293.6 478.6L1294.9 472.8L1289.8 473.2L1285.0 473.6ZM1271.2 461.8L1272.2 469.7L1275.7 468.9L1276.0 461.8L1271.2 461.8ZM1275.1 453.8L1272.5 456.6L1274.4 460.2L1275.4 457.8L1275.1 453.8ZM1320.2 484.3L1325.0 485.1L1329.2 484.0L1320.2 482.8ZM1350.6 486.6L1353.5 485.1L1355.4 482.8L1350.6 483.6L1348.4 485.1ZM1051.4 799.8L1057.8 799.8L1059.4 796.2L1049.8 796.7ZM1280.8 400.9L1285.0 400.9L1285.0 397.1L1280.2 398.5ZM1302.6 390.9L1303.6 392.4L1305.8 388.5L1303.2 388.0ZM1712.2 447.6L1719.6 445.6L1725.0 440.6L1720.2 443.5L1712.2 447.6ZM745.8 540.8L746.8 543.0L749.0 541.8L749.0 539.7L745.8 538.7ZM717.6 405.0L721.8 403.6L722.8 401.8L717.3 403.6ZM708.7 410.1L713.2 407.8L712.8 406.4L708.0 408.7ZM704.2 411.9L707.7 410.1L707.4 408.7L703.6 411.0ZM693.6 415.0L699.7 413.2L699.4 411.9L693.0 413.7ZM677.6 417.7L688.2 415.5L688.2 414.1L677.0 416.4ZM696.2 361.8L704.8 362.3L704.2 360.7L695.2 359.7ZM710.0 378.2L714.4 378.7L714.8 376.2L709.6 376.2Z" fill="#2e5e9b" stroke="#164684" stroke-width="1.2" stroke-linejoin="round"/>
      <path d="M1397.0 443.5L1394.8 446.8L1397.0 448.5L1397.0 453.8L1401.8 459.8L1403.4 464.6L1401.5 471.6L1401.8 475.1L1406.0 476.3L1411.4 478.2L1417.5 476.3L1416.8 469.7L1414.6 465.8L1419.4 463.4L1418.8 460.6L1415.6 462.6L1413.0 459.8L1413.6 455.4L1408.8 452.9L1406.0 447.6L1409.2 445.6L1414.6 444.3L1414.6 438.1L1408.2 437.2L1401.8 439.3L1397.0 443.5Z" fill="#144585" stroke="#24508c" stroke-width="1"/>
    </g>

    <!-- markers -->
    <use href="#dc" x="863.8" y="421.6"/>
    <use href="#dc" x="887.8" y="491.8"/>
    <use href="#dc" x="1280" y="379.8"/>
    <use href="#dc" x="1247.8" y="451.7"/>
    <use href="#dc" x="1306" y="443.7"/>
    <use href="#dc" x="1370" y="475.7"/>
    <use href="#dc" x="1537.9" y="373.6"/>
    <!-- warning -->
    <g transform="translate(1004 458)">
      <circle r="10.8" fill="#fdb522"/>
      <g fill="none" stroke="#fdb522" stroke-width="4" stroke-linecap="round"><path d="M17.90 1.88A18 18 0 0 0 7.32 -16.44"/><path d="M-7.32 -16.44A18 18 0 0 0 -17.90 1.88"/><path d="M-11.08 14.18A18 18 0 0 0 11.08 14.18"/></g>
      <rect x="-1.25" y="-6.3" width="2.5" height="8" rx="1.1" fill="#fff"/>
      <circle cx="0" cy="5.5" r="1.45" fill="#fff"/>
    </g>
    <!-- error -->
    <g transform="translate(1048 406.5)">
      <circle r="10.8" fill="#fb6b7c"/>
      <g fill="none" stroke="#fb6b7c" stroke-width="4" stroke-linecap="round"><path d="M17.90 1.88A18 18 0 0 0 7.32 -16.44"/><path d="M-7.32 -16.44A18 18 0 0 0 -17.90 1.88"/><path d="M-11.08 14.18A18 18 0 0 0 11.08 14.18"/></g>
      <path d="M-5.6 -5.6L5.6 5.6M5.6 -5.6L-5.6 5.6" stroke="#fff" stroke-width="2.2" stroke-linecap="round"/>
    </g>
    <!-- aws -->
    <path d="M894.3 399.2C903 407.5 918 408.3 926.2 401.2C918 405.8 904 405.2 894.3 399.2Z" fill="#1fdba6" stroke="#1fdba6" stroke-width="1.6" stroke-linejoin="round"/>
    <path d="M922 397.6L929.3 397.9L927.2 404.6" fill="none" stroke="#1fdba6" stroke-width="1.9" stroke-linecap="round" stroke-linejoin="round"/>
    <text x="912" y="394.2" font-family="Liberation Sans, sans-serif" font-weight="700" font-size="19" fill="#1fdba6" text-anchor="middle">aws</text>
    <!-- azure A -->
    <g transform="translate(1392 386)" fill="#1fdda8" stroke="#1fdda8" stroke-width="1.2" stroke-linejoin="round">
      <path d="M-6.4 -13.2L-16.3 14.2L-15.6 15.2L-6.4 15.2L-4.9 10.9L-8.1 5.9L-7.4 3.9L-2.4 3.3L-1.3 0L-5.3 -12.6Z"/>
      <path d="M-3.7 -15.2L6.2 -15.2L16.3 13.9L15.9 15.2L6.2 15.2Z"/>
      <path d="M-6.3 5.5L0.7 5L4.3 14.6L3.6 15.2Z"/>
    </g>

    <!-- map controls -->
    <rect x="713.2" y="659.3" width="189.6" height="57.6" rx="3.5" fill="none" stroke="#2d63a4" stroke-width="2"/>
    <path d="M777 659V717M841 659V717" stroke="#2d63a4" stroke-width="2"/>
    <path d="M737 691H751" stroke="#dde6f3" stroke-width="2.8"/>
    <path d="M800.2 688.6H815.8M808 680.8V696.4" stroke="#dde6f3" stroke-width="2.6"/>

    <!-- donut -->
    <g transform="translate(393 551)" fill="none" stroke-width="19.5">
      <path d="M0 -148.5A148.5 148.5 0 0 1 116.4 92.2" stroke="#4a8ce6"/>
      <path d="M116.4 92.2A148.5 148.5 0 0 1 -122.7 83.7" stroke="#a881fb"/>
      <path d="M-122.7 83.7A148.5 148.5 0 0 1 0 -148.5" stroke="#6be0ff"/>
    </g>

    <!-- dropdown arrows -->
    <path d="M383.5 834H406L394.8 846Z" fill="#24414f"/>
    <path d="M524.5 1438.5H547L535.8 1450.5Z" fill="#24414f"/>

    <!-- tasks chart -->
    <g stroke="#4a74ad" stroke-width="1.6" stroke-dasharray="1.6 7.2" fill="none">
      <path d="M260 1549H1257"/>
      <path d="M260 1647.5H1257"/>
    </g>
    <path d="M260 1745.5H1257" stroke="#2a5a99" stroke-width="2"/>
    <path d="M260.0 1663.0C271.9 1655.4 306.8 1631.0 331.6 1617.6C356.4 1604.2 383.1 1592.3 408.8 1582.8C434.5 1573.3 457.1 1565.7 486.0 1560.4C515.0 1555.1 550.3 1552.1 582.5 1551.2C614.7 1550.3 646.8 1552.6 679.0 1555.0C711.2 1557.4 743.3 1561.3 775.5 1565.5C807.7 1569.7 834.6 1572.2 872.0 1580.0C909.4 1587.8 958.3 1599.7 1000.0 1612.0C1041.7 1624.3 1088.0 1643.4 1122.0 1654.0C1156.0 1664.6 1181.7 1670.6 1204.0 1675.5C1226.3 1680.4 1247.3 1682.2 1256.0 1683.6L1256 1744L260 1744Z" fill="url(#gblue)"/>
    <path d="M260.0 1706.8C269.3 1703.7 298.9 1693.1 315.6 1688.4C332.3 1683.7 345.4 1681.1 360.0 1678.5C374.6 1675.9 388.5 1673.9 403.0 1673.0C417.5 1672.1 428.6 1672.4 446.8 1673.0C465.0 1673.6 490.5 1676.6 512.4 1676.6C534.3 1676.6 556.1 1675.9 578.0 1673.0C599.9 1670.1 621.8 1665.2 643.7 1659.0C665.6 1652.8 687.4 1643.8 709.3 1636.0C731.2 1628.2 756.7 1618.1 774.9 1611.9C793.1 1605.7 804.0 1601.8 818.6 1598.7C833.2 1595.6 847.8 1593.5 862.4 1593.5C877.0 1593.5 891.4 1595.3 906.0 1598.7C920.6 1602.1 935.2 1607.1 949.8 1614.0C964.4 1620.9 979.0 1631.2 993.6 1640.3C1008.2 1649.4 1026.4 1661.8 1037.3 1668.7C1048.2 1675.6 1048.2 1676.7 1059.2 1681.8C1070.2 1686.9 1084.8 1694.2 1103.0 1699.3C1121.2 1704.4 1143.0 1708.5 1168.5 1712.5C1194.0 1716.5 1241.4 1721.6 1256.0 1723.4L1256 1744L260 1744Z" fill="url(#ggreen)"/>
    <path d="M260.0 1722.5C294.8 1721.2 408.4 1716.8 468.7 1714.6C529.0 1712.3 589.0 1709.6 621.8 1709.0C654.6 1708.4 650.9 1709.5 665.5 1711.0C680.1 1712.5 691.9 1716.2 709.3 1717.7C726.7 1719.2 737.2 1719.2 770.0 1720.0C802.8 1720.8 872.4 1722.3 906.0 1722.5C939.6 1722.7 949.8 1723.6 971.7 1721.2C993.6 1718.8 1019.1 1711.8 1037.3 1708.0C1055.5 1704.2 1066.4 1700.7 1081.0 1698.5C1095.6 1696.3 1110.2 1694.9 1124.8 1695.0C1139.4 1695.1 1153.9 1696.8 1168.5 1699.3C1183.1 1701.8 1197.7 1706.3 1212.3 1710.3C1226.9 1714.3 1248.7 1721.2 1256.0 1723.4L1256 1744L260 1744Z" fill="url(#gcyan)"/>
    <g fill="none" stroke-width="6" stroke-linecap="round" stroke-linejoin="round">
      <path d="M260.0 1663.0C271.9 1655.4 306.8 1631.0 331.6 1617.6C356.4 1604.2 383.1 1592.3 408.8 1582.8C434.5 1573.3 457.1 1565.7 486.0 1560.4C515.0 1555.1 550.3 1552.1 582.5 1551.2C614.7 1550.3 646.8 1552.6 679.0 1555.0C711.2 1557.4 743.3 1561.3 775.5 1565.5C807.7 1569.7 834.6 1572.2 872.0 1580.0C909.4 1587.8 958.3 1599.7 1000.0 1612.0C1041.7 1624.3 1088.0 1643.4 1122.0 1654.0C1156.0 1664.6 1181.7 1670.6 1204.0 1675.5C1226.3 1680.4 1247.3 1682.2 1256.0 1683.6" stroke="#4a8ce6"/>
      <path d="M260.0 1706.8C269.3 1703.7 298.9 1693.1 315.6 1688.4C332.3 1683.7 345.4 1681.1 360.0 1678.5C374.6 1675.9 388.5 1673.9 403.0 1673.0C417.5 1672.1 428.6 1672.4 446.8 1673.0C465.0 1673.6 490.5 1676.6 512.4 1676.6C534.3 1676.6 556.1 1675.9 578.0 1673.0C599.9 1670.1 621.8 1665.2 643.7 1659.0C665.6 1652.8 687.4 1643.8 709.3 1636.0C731.2 1628.2 756.7 1618.1 774.9 1611.9C793.1 1605.7 804.0 1601.8 818.6 1598.7C833.2 1595.6 847.8 1593.5 862.4 1593.5C877.0 1593.5 891.4 1595.3 906.0 1598.7C920.6 1602.1 935.2 1607.1 949.8 1614.0C964.4 1620.9 979.0 1631.2 993.6 1640.3C1008.2 1649.4 1026.4 1661.8 1037.3 1668.7C1048.2 1675.6 1048.2 1676.7 1059.2 1681.8C1070.2 1686.9 1084.8 1694.2 1103.0 1699.3C1121.2 1704.4 1143.0 1708.5 1168.5 1712.5C1194.0 1716.5 1241.4 1721.6 1256.0 1723.4" stroke="#1fdba3"/>
      <path d="M260.0 1722.5C294.8 1721.2 408.4 1716.8 468.7 1714.6C529.0 1712.3 589.0 1709.6 621.8 1709.0C654.6 1708.4 650.9 1709.5 665.5 1711.0C680.1 1712.5 691.9 1716.2 709.3 1717.7C726.7 1719.2 737.2 1719.2 770.0 1720.0C802.8 1720.8 872.4 1722.3 906.0 1722.5C939.6 1722.7 949.8 1723.6 971.7 1721.2C993.6 1718.8 1019.1 1711.8 1037.3 1708.0C1055.5 1704.2 1066.4 1700.7 1081.0 1698.5C1095.6 1696.3 1110.2 1694.9 1124.8 1695.0C1139.4 1695.1 1153.9 1696.8 1168.5 1699.3C1183.1 1701.8 1197.7 1706.3 1212.3 1710.3C1226.9 1714.3 1248.7 1721.2 1256.0 1723.4" stroke="#6be0ff"/>
      <path d="M260 1735.3H1256" stroke="#ff6b7d"/>
    </g>
    <!-- legend icons -->
    <g fill="none" stroke-width="3.7" stroke-linecap="round">
      <g stroke="#ff6b7d"><circle cx="1374" cy="1556" r="8"/><path d="M1357.5 1556H1364.5M1383.5 1556H1390.5"/></g>
      <g stroke="#1fdba3"><circle cx="1374" cy="1620.3" r="8"/><path d="M1357.5 1620.3H1364.5M1383.5 1620.3H1390.5"/></g>
      <g stroke="#4a8ce6"><circle cx="1374" cy="1684.4" r="8"/><path d="M1357.5 1684.4H1364.5M1383.5 1684.4H1390.5"/></g>
      <g stroke="#6be0ff"><circle cx="1374" cy="1748.4" r="8"/><path d="M1357.5 1748.4H1364.5M1383.5 1748.4H1390.5"/></g>
    </g>

    <!-- pipeline health check -->
    <circle cx="1986" cy="316" r="18" fill="#2edba6"/>
    <path d="M1978 316.5L1983.8 322.3L1994.5 310.5" fill="none" stroke="#fff" stroke-width="3.6" stroke-linecap="round" stroke-linejoin="round"/>

    <!-- objects ellipses -->
    <defs><clipPath id="bandclip"><path clip-rule="evenodd" d="M2147 543a216 81 0 1 0 432 0a216 81 0 1 0 -432 0ZM2184 538a178 75 0 1 0 356 0a178 75 0 1 0 -356 0Z"/></clipPath></defs>
    <g clip-path="url(#bandclip)" fill="#2f8ae0">
    <rect x="2484" y="495.4" width="110" height="12.9" opacity="0.22"/>
    <rect x="2484" y="511.5" width="110" height="18.2" opacity="0.42"/>
    <rect x="2484" y="531.8" width="110" height="15.0" opacity="0.58"/>
    <rect x="2484" y="550.0" width="110" height="14.0" opacity="0.72"/>
    <rect x="2484" y="567.2" width="110" height="16.1" opacity="0.88"/>
    </g>
    <ellipse cx="2363.4" cy="543.8" rx="225.0" ry="84.5" fill="none" stroke="#3a8de0" stroke-width="2.30" opacity="0.95" />
    <ellipse cx="2363.4" cy="543.8" rx="221.6" ry="81.7" fill="none" stroke="#3a8de0" stroke-width="1.60" opacity="0.50" />
    <ellipse cx="2362.0" cy="534.0" rx="169.6" ry="72.0" fill="none" stroke="#3a8de0" stroke-width="2.30" opacity="0.95" />
    <ellipse cx="2362.0" cy="534.0" rx="166.2" ry="69.2" fill="none" stroke="#3a8de0" stroke-width="1.60" opacity="0.50" />
    <ellipse cx="2361.7" cy="532.9" rx="166.7" ry="54.7" fill="none" stroke="#3a8de0" stroke-width="2.30" opacity="0.95" />
    <ellipse cx="2361.7" cy="532.9" rx="163.3" ry="51.9" fill="none" stroke="#3a8de0" stroke-width="1.60" opacity="0.50" />
    <!-- connector -->
    <path d="M2631 540.2H2823.5" stroke="url(#gconn)" stroke-width="3.2"/>
    <circle cx="2631" cy="540.2" r="7.6" fill="#174f90"/>
    <circle cx="2823.5" cy="540.2" r="8" fill="#2bb7ea"/>
    <!-- big ring -->
    <g fill="none" stroke-linecap="butt">
    <ellipse cx="3130.0" cy="516.0" rx="263.0" ry="125.0" fill="none" stroke="#6aa6e0" stroke-width="2.60" opacity="0.75" />
    <ellipse cx="3132.0" cy="521.0" rx="258.0" ry="117.0" fill="none" stroke="#6aa6e0" stroke-width="2.20" opacity="0.55" />
    <ellipse cx="3134.0" cy="512.0" rx="266.0" ry="132.0" fill="none" stroke="#6aa6e0" stroke-width="1.60" opacity="0.35" />
    <ellipse cx="3130.0" cy="506.0" rx="225.0" ry="108.6" fill="none" stroke="#3f8fe6" stroke-width="2.60" opacity="0.90" />
    <ellipse cx="3128.0" cy="510.0" rx="221.0" ry="101.0" fill="none" stroke="#3f8fe6" stroke-width="1.60" opacity="0.60" />
    <ellipse cx="3110.0" cy="505.0" rx="188.0" ry="70.0" fill="none" stroke="#4d96e0" stroke-width="2.00" opacity="0.80" />
    <path d="M2908.3 502.8L2908.7 500.1L2909.2 497.4L2909.9 494.7L2910.8 492.0L2911.8 489.3L2913.0 486.7L2914.3 484.1L2915.8 481.4L2917.5 478.8L2919.3 476.3L2921.2 473.7L2923.3 471.2L2925.6 468.7L2927.9 466.2L2930.5 463.8L2933.2 461.4L2936.0 459.0L2938.9 456.6L2942.0 454.3L2945.3 452.1L2948.6 449.9L2952.1 447.7L2955.7 445.5L2959.5 443.5L2963.4 441.4L2967.3 439.4L2971.4 437.5L2975.7 435.6L2980.0 433.7L2984.4 432.0L2989.0 430.2L2993.6 428.6L2998.3 426.9L3003.2 425.4L3008.1 423.9L3013.1 422.5L3018.2 421.1L3023.3 419.8L3028.6 418.5L3033.9 417.4" stroke="#5b9bd8" stroke-width="8" opacity=".8"/>
    <path d="M2913.0 478.5L2912.2 480.2L2911.5 481.9L2910.9 483.6L2910.5 485.3L2910.2 487.0L2910.0 488.7L2910.0 490.4L2910.1 492.1L2910.3 493.8L2910.7 495.5L2911.2 497.2L2911.8 498.8L2912.6 500.5L2913.4 502.2L2914.5 503.9L2915.6 505.5L2916.9 507.2L2918.3 508.8L2919.8 510.4L2921.5 512.0L2923.3 513.6L2925.2 515.2L2927.2 516.8L2929.3 518.3L2931.6 519.8L2934.0 521.3L2936.5 522.8L2939.1 524.3L2941.8 525.7L2944.7 527.1L2947.6 528.5L2950.7 529.9L2953.9 531.2L2957.1 532.6L2960.5 533.8L2964.0 535.1L2967.5 536.3L2971.2 537.5L2974.9 538.7L2978.8 539.8" stroke="#6aa4dc" stroke-width="11" opacity=".95"/>
    <path d="M2986.9 542.0L2987.6 542.2L2988.2 542.4L2988.9 542.5L2989.6 542.7L2990.3 542.9L2991.0 543.1L2991.7 543.2L2992.4 543.4L2993.2 543.6L2993.9 543.7L2994.6 543.9L2995.3 544.1L2996.0 544.2L2996.7 544.4L2997.4 544.6L2998.2 544.7L2998.9 544.9L2999.6 545.0L3000.3 545.2L3001.1 545.4L3001.8 545.5L3002.5 545.7L3003.3 545.8L3004.0 546.0L3004.8 546.1L3005.5 546.3L3006.2 546.4L3007.0 546.6L3007.7 546.7L3008.5 546.9L3009.2 547.0L3010.0 547.2L3010.8 547.3L3011.5 547.4L3012.3 547.6L3013.0 547.7L3013.8 547.9L3014.6 548.0L3015.3 548.1L3016.1 548.3" stroke="#6aa4dc" stroke-width="7" opacity=".95"/>
    <path d="M2879.8 491.2 L2903.7 490.2" stroke="#6aa6e0" stroke-width="1.8" opacity=".5"/>
    <path d="M2871.1 504.3 L2903.7 504.3" stroke="#6aa6e0" stroke-width="1.8" opacity=".5"/>
    <path d="M2870.1 517.3 L2902.6 517.3" stroke="#6aa6e0" stroke-width="1.8" opacity=".5"/>
    <path d="M2871.1 530.3 L2903.7 530.3" stroke="#6aa6e0" stroke-width="1.8" opacity=".5"/>
    <path d="M2874.4 544.4 L2908.0 543.3" stroke="#6aa6e0" stroke-width="1.8" opacity=".5"/>
    <path d="M2882.0 558.5 L2914.5 555.2" stroke="#6aa6e0" stroke-width="1.8" opacity=".5"/>
    <path d="M2897.2 572.6 L2931.9 567.2" stroke="#6aa6e0" stroke-width="1.8" opacity=".5"/>
    <path d="M2918.9 585.6 L2949.2 578.0" stroke="#6aa6e0" stroke-width="1.8" opacity=".5"/>
    <path d="M2942.7 596.4 L2968.8 587.8" stroke="#6aa6e0" stroke-width="1.8" opacity=".5"/>
    <path d="M2970.9 607.3 L2994.8 596.4" stroke="#6aa6e0" stroke-width="1.8" opacity=".5"/>
    </g>
    <!-- security chart -->
    <g stroke="#4a74ad" stroke-width="1.6" stroke-dasharray="1.6 7.2" fill="none">
      <path d="M2080 1071H2998"/>
      <path d="M2080 1133H2998"/>
      <path d="M2080 1194.5H2998"/>
    </g>
    <path d="M2080 1257H2998" stroke="#2a5a99" stroke-width="2"/>
    <path d="M2100.5 1220.0C2105.4 1218.3 2117.4 1213.5 2129.8 1210.0C2142.2 1206.5 2159.7 1202.4 2174.7 1198.9C2189.7 1195.4 2204.6 1191.8 2219.6 1189.0C2234.6 1186.2 2249.6 1183.9 2264.6 1182.2C2279.6 1180.5 2294.5 1179.2 2309.5 1178.6C2324.5 1178.0 2339.5 1178.2 2354.5 1178.6C2369.5 1179.0 2384.5 1180.2 2399.4 1180.9C2414.3 1181.6 2429.1 1182.5 2444.0 1183.0C2458.9 1183.5 2474.0 1184.1 2489.0 1184.0C2504.0 1183.9 2519.0 1183.5 2534.0 1182.2C2549.0 1180.9 2564.0 1178.7 2579.0 1176.4C2594.0 1174.2 2609.0 1171.7 2624.0 1168.7C2639.0 1165.7 2654.0 1162.4 2669.0 1158.4C2684.0 1154.5 2699.0 1149.9 2714.0 1145.0C2729.0 1140.1 2744.0 1134.5 2759.0 1129.2C2774.0 1124.0 2788.9 1118.8 2803.9 1113.5C2818.9 1108.2 2834.5 1102.1 2848.8 1097.7C2863.2 1093.3 2876.5 1089.9 2890.0 1087.0C2903.5 1084.1 2917.5 1081.8 2930.0 1080.5C2942.5 1079.2 2953.3 1079.0 2965.0 1078.9C2976.7 1078.8 2987.5 1079.1 3000.0 1079.8C3012.5 1080.5 3033.3 1082.5 3040.0 1083.0L3040 1256L2100.5 1256Z" fill="url(#gsec)"/>
    <path d="M2100.5 1220.0C2105.4 1218.3 2117.4 1213.5 2129.8 1210.0C2142.2 1206.5 2159.7 1202.4 2174.7 1198.9C2189.7 1195.4 2204.6 1191.8 2219.6 1189.0C2234.6 1186.2 2249.6 1183.9 2264.6 1182.2C2279.6 1180.5 2294.5 1179.2 2309.5 1178.6C2324.5 1178.0 2339.5 1178.2 2354.5 1178.6C2369.5 1179.0 2384.5 1180.2 2399.4 1180.9C2414.3 1181.6 2429.1 1182.5 2444.0 1183.0C2458.9 1183.5 2474.0 1184.1 2489.0 1184.0C2504.0 1183.9 2519.0 1183.5 2534.0 1182.2C2549.0 1180.9 2564.0 1178.7 2579.0 1176.4C2594.0 1174.2 2609.0 1171.7 2624.0 1168.7C2639.0 1165.7 2654.0 1162.4 2669.0 1158.4C2684.0 1154.5 2699.0 1149.9 2714.0 1145.0C2729.0 1140.1 2744.0 1134.5 2759.0 1129.2C2774.0 1124.0 2788.9 1118.8 2803.9 1113.5C2818.9 1108.2 2834.5 1102.1 2848.8 1097.7C2863.2 1093.3 2876.5 1089.9 2890.0 1087.0C2903.5 1084.1 2917.5 1081.8 2930.0 1080.5C2942.5 1079.2 2953.3 1079.0 2965.0 1078.9C2976.7 1078.8 2987.5 1079.1 3000.0 1079.8C3012.5 1080.5 3033.3 1082.5 3040.0 1083.0" fill="none" stroke="#6be0ff" stroke-width="6" stroke-linecap="round"/>
    <g fill="none" stroke="#6be0ff" stroke-width="3.7" stroke-linecap="round">
      <circle cx="2002" cy="965.3" r="8"/><path d="M1985.5 965.3H1992.5M2011.5 965.3H2019"/>
    </g>
  </svg>

  <!-- dividers -->
  <div class="vl" style="left:662px;top:220px;height:546px;"></div>
  <div class="hl" style="left:114px;top:766px;width:1748px;"></div>
  <div class="hl" style="left:114px;top:1320px;width:1748px;"></div>
  <div class="vl" style="left:690px;top:920px;height:251px;opacity:.75;"></div>
  <div class="vl" style="left:1268px;top:920px;height:251px;opacity:.75;"></div>
  <div class="vl" style="left:316px;top:1421px;height:47px;"></div>
  <!-- small value dividers -->
  <div class="vl" style="left:320px;top:1022px;height:47px;"></div>
  <div class="vl" style="left:358px;top:1114px;height:47px;"></div>
  <div class="vl" style="left:900.5px;top:1022px;height:47px;"></div>
  <div class="vl" style="left:938px;top:1114px;height:47px;"></div>
  <div class="vl" style="left:1478px;top:1022px;height:47px;"></div>
  <div class="vl" style="left:1516px;top:1114px;height:47px;"></div>
  <!-- category dots -->
  <div class="dot" style="left:176px;top:930px;background:#4dd3d0;"></div>
  <div class="dot" style="left:756px;top:930px;background:#a881fb;"></div>
  <div class="dot" style="left:1334px;top:930px;background:#4a8ce6;"></div>
  <!-- progress bars -->
  <div class="bar" style="left:1976px;top:1754px;width:458px;"></div>
  <div class="bar" style="left:2502px;top:1754px;width:460px;"></div>
  <!-- scrollbar -->
  <div style="position:absolute;left:1569px;top:1754px;width:366px;height:16px;border-radius:8px;background:rgba(255,255,255,.16);"></div>

<div class="t" style="left:113.0px;top:117.5px;font-size:49.0px;color:#fff;letter-spacing:-0.14px;"><b>Data Protection</b></div>
<div class="t" style="left:1913.5px;top:117.0px;font-size:49.0px;color:#fff;letter-spacing:-0.25px;"><b>Data Threat Analytics</b></div>
<div class="t" style="left:1913.5px;top:764.5px;font-size:49.0px;color:#fff;letter-spacing:-0.58px;"><b>Data Security Posture</b></div>
<div class="t" style="left:1913.5px;top:1412.8px;font-size:49.0px;color:#fff;transform:scaleX(0.9754);transform-origin:0 50%;"><b>Orchestrated Recovery</b></div>
<div class="t" style="left:177.0px;top:282.6px;font-size:43.0px;color:#fff;letter-spacing:0.20px;-webkit-text-stroke:0.70px #fff;">Protected objects</div>
<div class="t" style="left:352.1px;top:513.6px;font-size:46.0px;color:#fff;transform:scaleX(0.9346);transform-origin:50% 50%;-webkit-text-stroke:1.50px #fff;">50K</div>
<div class="t" style="left:294.0px;top:572.8px;font-size:25.0px;color:#d6e1f1;letter-spacing:-0.04px;">Protected Objects</div>
<div class="t" style="left:729.8px;top:289.9px;font-size:43.0px;color:#fff;letter-spacing:-0.40px;-webkit-text-stroke:0.70px #fff;">Data Centers</div>
<div class="t" style="left:1362.6px;top:291.7px;font-size:40.0px;color:#fff;letter-spacing:-0.45px;-webkit-text-stroke:0.80px #fff;">28</div>
<div class="t" style="left:1417.0px;top:303.0px;font-size:30.0px;color:#fff;transform:scaleX(0.9510);transform-origin:0 50%;">Connected</div>
<div class="t" style="left:1591.0px;top:291.7px;font-size:40.0px;color:#fff;transform:scaleX(0.9440);transform-origin:0 50%;-webkit-text-stroke:0.80px #fff;">3</div>
<div class="t" style="left:1623.0px;top:303.0px;font-size:30.0px;color:#fff;transform:scaleX(0.9627);transform-origin:0 50%;">Disconnected</div>
<div class="t" style="left:858.4px;top:673.6px;font-size:28.8px;color:#dde6f3;transform:scaleX(0.9065);transform-origin:0 50%;">Fit</div>
<div class="t" style="left:176.0px;top:825.0px;font-size:29.0px;color:#fff;letter-spacing:-0.17px;">Past 24 hours</div>
<div class="t" style="left:209.0px;top:920.1px;font-size:36.5px;color:#fff;transform:scaleX(0.9382);transform-origin:0 50%;"><b>Cloud</b></div>
<div class="t" style="left:209.0px;top:1025.1px;font-size:46.0px;color:#fff;transform:scaleX(0.9006);transform-origin:0 50%;"><b>20K</b></div>
<div class="t" style="left:355.5px;top:1025.1px;font-size:46.0px;color:#fff;transform:scaleX(0.8842);transform-origin:0 50%;-webkit-text-stroke:1.30px #144585;">+2K</div>
<div class="t" style="left:446.6px;top:1038.6px;font-size:30.0px;color:#c9d7ec;transform:scaleX(0.9721);transform-origin:0 50%;">objects</div>
<div class="t" style="left:209.0px;top:1116.7px;font-size:46.0px;color:#fff;transform:scaleX(0.9101);transform-origin:0 50%;"><b>4.9TB</b></div>
<div class="t" style="left:393.0px;top:1116.7px;font-size:46.0px;color:#fff;transform:scaleX(0.9259);transform-origin:0 50%;-webkit-text-stroke:1.30px #144585;">+165.3GB</div>
<div class="t" style="left:789.0px;top:920.1px;font-size:36.5px;color:#fff;transform:scaleX(0.8847);transform-origin:0 50%;"><b>SaaS</b></div>
<div class="t" style="left:789.0px;top:1025.1px;font-size:46.0px;color:#fff;transform:scaleX(0.9006);transform-origin:0 50%;"><b>33K</b></div>
<div class="t" style="left:935.5px;top:1025.1px;font-size:46.0px;color:#fff;transform:scaleX(0.8842);transform-origin:0 50%;-webkit-text-stroke:1.30px #144585;">+3K</div>
<div class="t" style="left:1026.6px;top:1038.6px;font-size:30.0px;color:#c9d7ec;transform:scaleX(0.9721);transform-origin:0 50%;">objects</div>
<div class="t" style="left:789.0px;top:1116.7px;font-size:46.0px;color:#fff;transform:scaleX(0.9021);transform-origin:0 50%;"><b>1.3TB</b></div>
<div class="t" style="left:973.0px;top:1116.7px;font-size:46.0px;color:#fff;transform:scaleX(0.9387);transform-origin:0 50%;-webkit-text-stroke:1.30px #144585;">+5MB</div>
<div class="t" style="left:1367.5px;top:920.1px;font-size:36.5px;color:#fff;letter-spacing:0.15px;"><b>Data Center</b></div>
<div class="t" style="left:1367.5px;top:1025.1px;font-size:46.0px;color:#fff;transform:scaleX(0.9065);transform-origin:0 50%;"><b>35K</b></div>
<div class="t" style="left:1513.0px;top:1025.1px;font-size:46.0px;color:#fff;transform:scaleX(0.8962);transform-origin:0 50%;-webkit-text-stroke:1.30px #144585;">+2K</div>
<div class="t" style="left:1605.0px;top:1038.6px;font-size:30.0px;color:#c9d7ec;transform:scaleX(0.9721);transform-origin:0 50%;">objects</div>
<div class="t" style="left:1367.5px;top:1116.7px;font-size:46.0px;color:#fff;transform:scaleX(0.9021);transform-origin:0 50%;"><b>5.2TB</b></div>
<div class="t" style="left:1551.0px;top:1116.7px;font-size:46.0px;color:#fff;transform:scaleX(0.9319);transform-origin:0 50%;-webkit-text-stroke:1.30px #144585;">+180.23 GB</div>
<div class="t" style="left:176.4px;top:1418.7px;font-size:42.0px;color:#fff;letter-spacing:-0.35px;-webkit-text-stroke:0.90px #fff;">Tasks</div>
<div class="t" style="left:350.0px;top:1429.8px;font-size:29.0px;color:#fff;letter-spacing:-0.18px;">All Clusters</div>
<div class="t" style="left:172.0px;top:1526.9px;font-size:26.5px;color:#c9d6ea;transform:scaleX(0.8990);transform-origin:100% 50%;-webkit-text-stroke:0.60px #144585;">1500</div>
<div class="t" style="left:186.8px;top:1625.7px;font-size:26.5px;color:#c9d6ea;transform:scaleX(0.8911);transform-origin:100% 50%;-webkit-text-stroke:0.60px #144585;">500</div>
<div class="t" style="left:216.3px;top:1724.5px;font-size:26.5px;color:#c9d6ea;transform:scaleX(0.8413);transform-origin:100% 50%;-webkit-text-stroke:0.60px #144585;">0</div>
<div class="t" style="left:289.0px;top:1774.8px;font-size:25.0px;color:#c9d6ea;transform:scaleX(0.8493);transform-origin:0 50%;-webkit-text-stroke:0.60px #144585;">FEB 2</div>
<div class="t" style="left:435.7px;top:1774.8px;font-size:25.0px;color:#c9d6ea;transform:scaleX(0.8493);transform-origin:0 50%;-webkit-text-stroke:0.60px #144585;">FEB 3</div>
<div class="t" style="left:582.4px;top:1774.8px;font-size:25.0px;color:#c9d6ea;transform:scaleX(0.8493);transform-origin:0 50%;-webkit-text-stroke:0.60px #144585;">FEB 4</div>
<div class="t" style="left:729.1px;top:1774.8px;font-size:25.0px;color:#c9d6ea;transform:scaleX(0.8493);transform-origin:0 50%;-webkit-text-stroke:0.60px #144585;">FEB 5</div>
<div class="t" style="left:875.8px;top:1774.8px;font-size:25.0px;color:#c9d6ea;transform:scaleX(0.8493);transform-origin:0 50%;-webkit-text-stroke:0.60px #144585;">FEB 6</div>
<div class="t" style="left:1022.5px;top:1774.8px;font-size:25.0px;color:#c9d6ea;transform:scaleX(0.8493);transform-origin:0 50%;-webkit-text-stroke:0.60px #144585;">FEB 7</div>
<div class="t" style="left:1169.2px;top:1774.8px;font-size:25.0px;color:#c9d6ea;transform:scaleX(0.8493);transform-origin:0 50%;-webkit-text-stroke:0.60px #144585;">FEB 8</div>
<div class="t" style="left:1425.0px;top:1538.7px;font-size:37.0px;color:#fff;transform:scaleX(0.9476);transform-origin:0 50%;-webkit-text-stroke:1.30px #fff;">2</div>
<div class="t" style="left:1455.0px;top:1546.0px;font-size:29.0px;color:#d0dcee;transform:scaleX(0.9622);transform-origin:0 50%;">Failed</div>
<div class="t" style="left:1425.0px;top:1602.7px;font-size:37.0px;color:#fff;transform:scaleX(0.9476);transform-origin:0 50%;-webkit-text-stroke:1.30px #fff;">1021</div>
<div class="t" style="left:1516.6px;top:1610.0px;font-size:29.0px;color:#d0dcee;letter-spacing:0.14px;">Completed</div>
<div class="t" style="left:1425.0px;top:1666.7px;font-size:37.0px;color:#fff;transform:scaleX(0.9719);transform-origin:0 50%;-webkit-text-stroke:1.30px #fff;">812</div>
<div class="t" style="left:1495.0px;top:1674.0px;font-size:29.0px;color:#d0dcee;">In progress</div>
<div class="t" style="left:1425.0px;top:1730.7px;font-size:37.0px;color:#fff;transform:scaleX(0.9379);transform-origin:0 50%;-webkit-text-stroke:1.30px #fff;">50</div>
<div class="t" style="left:1474.6px;top:1738.0px;font-size:29.0px;color:#d0dcee;transform:scaleX(0.9589);transform-origin:0 50%;">Canceled</div>
<div class="t" style="left:2026.7px;top:301.6px;font-size:30.0px;color:#fff;letter-spacing:-0.30px;">Pipeline health</div>
<div class="t" style="left:2254.0px;top:270.3px;font-size:67.0px;color:#fff;transform:scaleX(0.9292);transform-origin:0 50%;-webkit-text-stroke:1.70px #fff;">99%</div>
<div class="t" style="left:2288.4px;top:410.7px;font-size:68.0px;color:#fff;transform:scaleX(0.9519);transform-origin:50% 50%;-webkit-text-stroke:1.70px #fff;">5200</div>
<div class="t" style="left:2304.2px;top:502.0px;font-size:35.0px;color:#fff;transform:scaleX(0.9355);transform-origin:50% 50%;">Objects</div>
<div class="t" style="left:2037.0px;top:926.1px;font-size:66.0px;color:#fff;transform:scaleX(0.9749);transform-origin:0 50%;-webkit-text-stroke:1.70px #fff;">60,000</div>
<div class="t" style="left:2253.0px;top:956.6px;font-size:30.0px;color:#cbd9ee;transform:scaleX(0.9755);transform-origin:0 50%;">Unique sensitive hits</div>
<div class="t" style="left:1977.7px;top:1046.7px;font-size:26.5px;color:#c9d6ea;transform:scaleX(0.8563);transform-origin:100% 50%;-webkit-text-stroke:0.60px #144585;">180K</div>
<div class="t" style="left:1977.7px;top:1106.9px;font-size:26.5px;color:#c9d6ea;transform:scaleX(0.8563);transform-origin:100% 50%;-webkit-text-stroke:0.60px #144585;">120K</div>
<div class="t" style="left:1992.4px;top:1166.5px;font-size:26.5px;color:#c9d6ea;transform:scaleX(0.8631);transform-origin:100% 50%;-webkit-text-stroke:0.60px #144585;">60K</div>
<div class="t" style="left:2007.2px;top:1226.9px;font-size:26.5px;color:#c9d6ea;transform:scaleX(0.8268);transform-origin:100% 50%;-webkit-text-stroke:0.60px #144585;">0K</div>
<div class="t" style="left:2083.7px;top:1291.8px;font-size:25.0px;color:#c9d6ea;transform:scaleX(0.8493);transform-origin:0 50%;-webkit-text-stroke:0.60px #144585;">FEB 2</div>
<div class="t" style="left:2313.9px;top:1291.8px;font-size:25.0px;color:#c9d6ea;transform:scaleX(0.8755);transform-origin:0 50%;-webkit-text-stroke:0.60px #144585;">FEB 15</div>
<div class="t" style="left:2553.6px;top:1291.8px;font-size:25.0px;color:#c9d6ea;transform:scaleX(0.8769);transform-origin:0 50%;-webkit-text-stroke:0.60px #144585;">MAR 1</div>
<div class="t" style="left:2784.0px;top:1291.8px;font-size:25.0px;color:#c9d6ea;transform:scaleX(0.9080);transform-origin:0 50%;-webkit-text-stroke:0.60px #144585;">MAR 15</div>
<div class="t" style="left:1976.0px;top:1623.2px;font-size:63.5px;color:#fff;letter-spacing:-0.03px;-webkit-text-stroke:1.70px #fff;">99%</div>
<div class="t" style="left:1976.0px;top:1702.2px;font-size:30.0px;color:#d2ddee;transform:scaleX(0.9350);transform-origin:0 50%;">vSphere VM’s <b>Enabled</b></div>
<div class="t" style="left:2502.0px;top:1623.2px;font-size:63.5px;color:#fff;letter-spacing:0.68px;-webkit-text-stroke:1.70px #fff;">4</div>
<div class="t" style="left:2502.0px;top:1702.2px;font-size:30.0px;color:#d2ddee;transform:scaleX(0.9336);transform-origin:0 50%;">Recovery Plans <b>Ready</b></div>
<div class="t" style="left:2945.3px;top:1702.2px;font-size:30.0px;color:#d6e1f1;">4</div>
</div>
</body>
</html>
